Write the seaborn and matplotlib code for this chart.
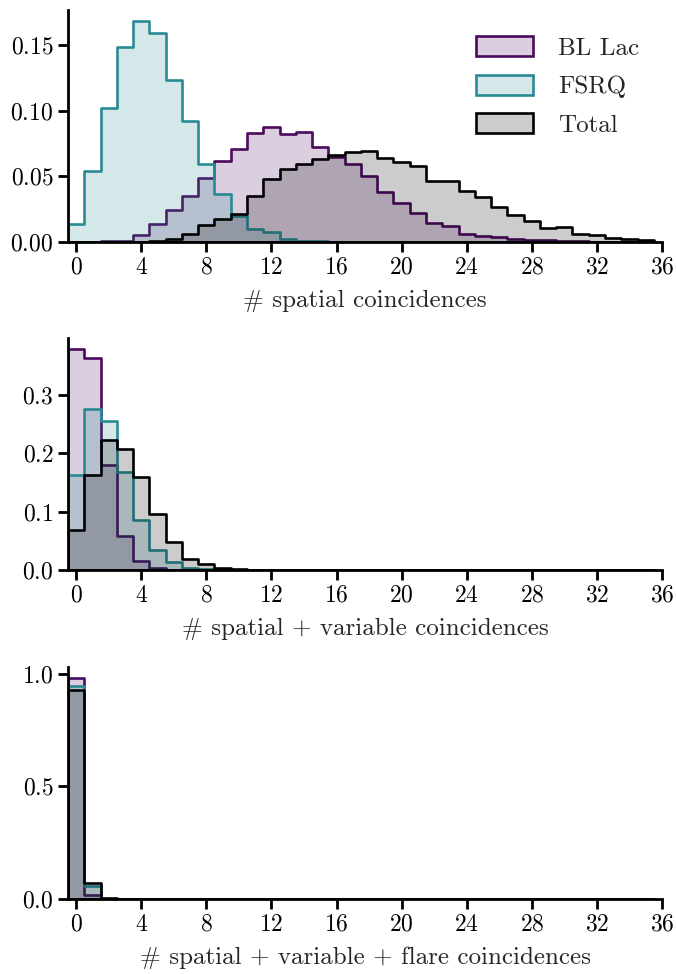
import numpy as np
import pandas as pd
import matplotlib
matplotlib.use("Agg")
import matplotlib.pyplot as plt
import seaborn as sns
from matplotlib.patches import Patch
from matplotlib.ticker import MultipleLocator

# bin centres (number of coincidences)
n_coinc = np.arange(36)

series_names = ["BL Lac", "FSRQ", "Total"]
series_colors = ["#4b0a5c", "#2a8a94", "#000000"]

x_labels = [
    "# spatial coincidences",
    "# spatial + variable coincidences",
    "# spatial + variable + flare coincidences",
]

# Panel 1: spatial coincidences
spatial_bllac = [0, 0, 0.0005, 0.001, 0.005, 0.0139, 0.024, 0.035, 0.049, 0.0614,
                 0.071, 0.0827, 0.0878, 0.0822, 0.0835, 0.0725, 0.0649, 0.0590, 0.0501, 0.0382,
                 0.0300, 0.0224, 0.0145, 0.0120, 0.0059, 0.0046, 0.0038, 0.0025, 0.0018, 0.0013,
                 0.0008, 0.0005, 0.0003, 0.0002, 0.0001, 0.0001]
spatial_fsrq = [0.0139, 0.0539, 0.1017, 0.148, 0.168, 0.159, 0.123, 0.0924, 0.0596, 0.0365,
                0.0198, 0.010, 0.008, 0.002, 0.001, 0.001, 0.0003, 0, 0, 0,
                0, 0, 0, 0, 0, 0, 0, 0, 0, 0,
                0, 0, 0, 0, 0, 0]
spatial_total = [0, 0, 0, 0, 0.0003, 0.001, 0.0026, 0.0064, 0.0126, 0.0172,
                 0.0216, 0.0352, 0.048, 0.0557, 0.0596, 0.0628, 0.0662, 0.0682, 0.0695, 0.0641,
                 0.0611, 0.0580, 0.0463, 0.0463, 0.0387, 0.0344, 0.0267, 0.0209, 0.0158, 0.0107,
                 0.0115, 0.0064, 0.0051, 0.0033, 0.0020, 0.0013]

# Panel 2: spatial + variable coincidences
variable_bllac = [0.378, 0.363, 0.179, 0.0586, 0.016, 0.0034, 0.0005] + [0] * 29
variable_fsrq = [0.163, 0.275, 0.255, 0.167, 0.086, 0.0345, 0.013, 0.0035, 0.001] + [0] * 27
variable_total = [0.068, 0.163, 0.223, 0.207, 0.159, 0.0966, 0.048, 0.0195, 0.0103,
                  0.0035, 0.0017, 0.0006, 0.0002] + [0] * 23

# Panel 3: spatial + variable + flare coincidences
flare_bllac = [0.981, 0.018] + [0] * 34
flare_fsrq = [0.947, 0.056] + [0] * 34
flare_total = [0.926, 0.071, 0.004] + [0] * 33

panels = [
    (spatial_bllac, spatial_fsrq, spatial_total),
    (variable_bllac, variable_fsrq, variable_total),
    (flare_bllac, flare_fsrq, flare_total),
]
y_steps = [0.05, 0.1, 0.5]

sns.set_style("ticks")
plt.rcParams.update({
    "font.family": ["cmr10", "DejaVu Serif"],
    "mathtext.fontset": "cm",
    "axes.formatter.use_mathtext": True,
    "axes.unicode_minus": False,
    "font.size": 18,
    "axes.labelsize": 18,
    "xtick.labelsize": 17,
    "ytick.labelsize": 17,
    "legend.fontsize": 18,
    "axes.linewidth": 2.0,
    "xtick.major.width": 2.0,
    "ytick.major.width": 2.0,
    "xtick.major.size": 7,
    "ytick.major.size": 7,
    "xtick.color": "black",
    "ytick.color": "black",
    "axes.edgecolor": "black",
})

fig = plt.figure(figsize=(6.76, 9.74), dpi=100)
bottoms = [0.7515, 0.4148, 0.0770]
axes = [fig.add_axes([0.1006, b, 0.8787, 0.2382]) for b in bottoms]

for ax, series, xl, ys in zip(axes, panels, x_labels, y_steps):
    for vals, col in zip(series, series_colors):
        df = pd.DataFrame({"n": n_coinc, "w": np.asarray(vals, dtype=float)})
        sns.histplot(data=df, x="n", weights="w", discrete=True, element="step",
                     fill=True, alpha=0.2, color=col, linewidth=1.9, ax=ax)
    ax.set_xlim(-0.5, 36)
    ax.set_xticks(range(0, 37, 4))
    ax.yaxis.set_major_locator(MultipleLocator(ys))
    ax.set_ylabel("")
    ax.set_xlabel(xl, labelpad=8)
    sns.despine(ax=ax)

handles = [Patch(facecolor=matplotlib.colors.to_rgba(c, 0.2), edgecolor=c, linewidth=1.9)
           for c in series_colors]
axes[0].legend(handles, series_names, loc="upper right", frameon=False,
               handlelength=2.3, handleheight=0.85, labelspacing=0.6,
               handletextpad=1.0, bbox_to_anchor=(1.0, 0.985))

fig.savefig("out.png", dpi=100)
